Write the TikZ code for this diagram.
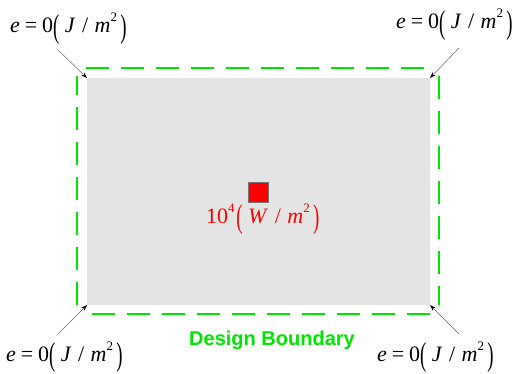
\documentclass[tikz,border=0pt]{standalone}
\usepackage{fontspec}
\setmainfont{Liberation Serif}
\newfontfamily\arialfont{Liberation Sans}
\usetikzlibrary{arrows.meta}
\definecolor{dgreen}{RGB}{0,230,0}
\definecolor{panel}{RGB}{228,228,228}
\newcommand{\tallp}[1]{\raisebox{-4.5pt}{\scalebox{0.85}[1.5]{#1}}}
\newcommand{\supr}[1]{\raisebox{0.5em}{\fontsize{13}{13}\selectfont #1}}
\newcommand{\elabel}{\textit{e}\hspace{0.22em}=\hspace{0.22em}0\tallp{(}\hspace{0.25em}\textit{J}\hspace{0.3em}/\hspace{0.3em}\textit{m}\supr{2}\hspace{0.15em}\tallp{)}}
\begin{document}
\begin{tikzpicture}[x=1pt,y=-1pt,
  lbl/.style={font=\fontsize{22}{24}\selectfont, inner sep=0pt, anchor=base west},
  pointer/.style={draw=black!60, line width=0.5pt, -{Stealth[length=6pt,width=4pt,black]}},
  boundary/.style={draw=dgreen, line width=1.2pt, dash pattern=on 23pt off 12pt}]
\useasboundingbox (0,0) rectangle (521,374);
\fill[panel] (87,78) rectangle (430,305);
\coordinate (tl) at (87,78);
\coordinate (tr) at (430,78);
\coordinate (bl) at (87,305);
\coordinate (br) at (430,305);
\draw[boundary] (86,68) -- (430,68);
\draw[boundary] (439,76) -- (439,305);
\draw[boundary] (430,314) -- (86,314);
\draw[boundary] (77,305) -- (77,76);
\node[lbl] (l1) at (10,33) {\elabel};
\node[lbl] (l2) at (396,29) {\elabel};
\node[lbl] (l3) at (6,361) {\elabel};
\node[lbl] (l4) at (377,361) {\elabel};
\coordinate (s1) at (58,50);
\coordinate (s2) at (459,48);
\coordinate (s3) at (58,334);
\coordinate (s4) at (459,334);
\draw[pointer] (s1) -- (tl);
\draw[pointer] (s2) -- (tr);
\draw[pointer] (s3) -- (bl);
\draw[pointer] (s4) -- (br);
\node[draw=black!55, fill=red, line width=0.6pt, minimum size=20pt, inner sep=0pt] (src) at (258.5,192) {};
\node[lbl, text=red] (srclbl) at (206,223) {10\supr{4}\hspace{0.08em}\tallp{(}\hspace{0.25em}\textit{W}\hspace{0.3em}/\hspace{0.3em}\textit{m}\supr{2}\hspace{0.15em}\tallp{)}};
\node[font=\arialfont\bfseries\fontsize{20}{22}\selectfont, text=dgreen, inner sep=0pt, anchor=base] (db) at (272,345) {Design Boundary};
\end{tikzpicture}
\end{document}
